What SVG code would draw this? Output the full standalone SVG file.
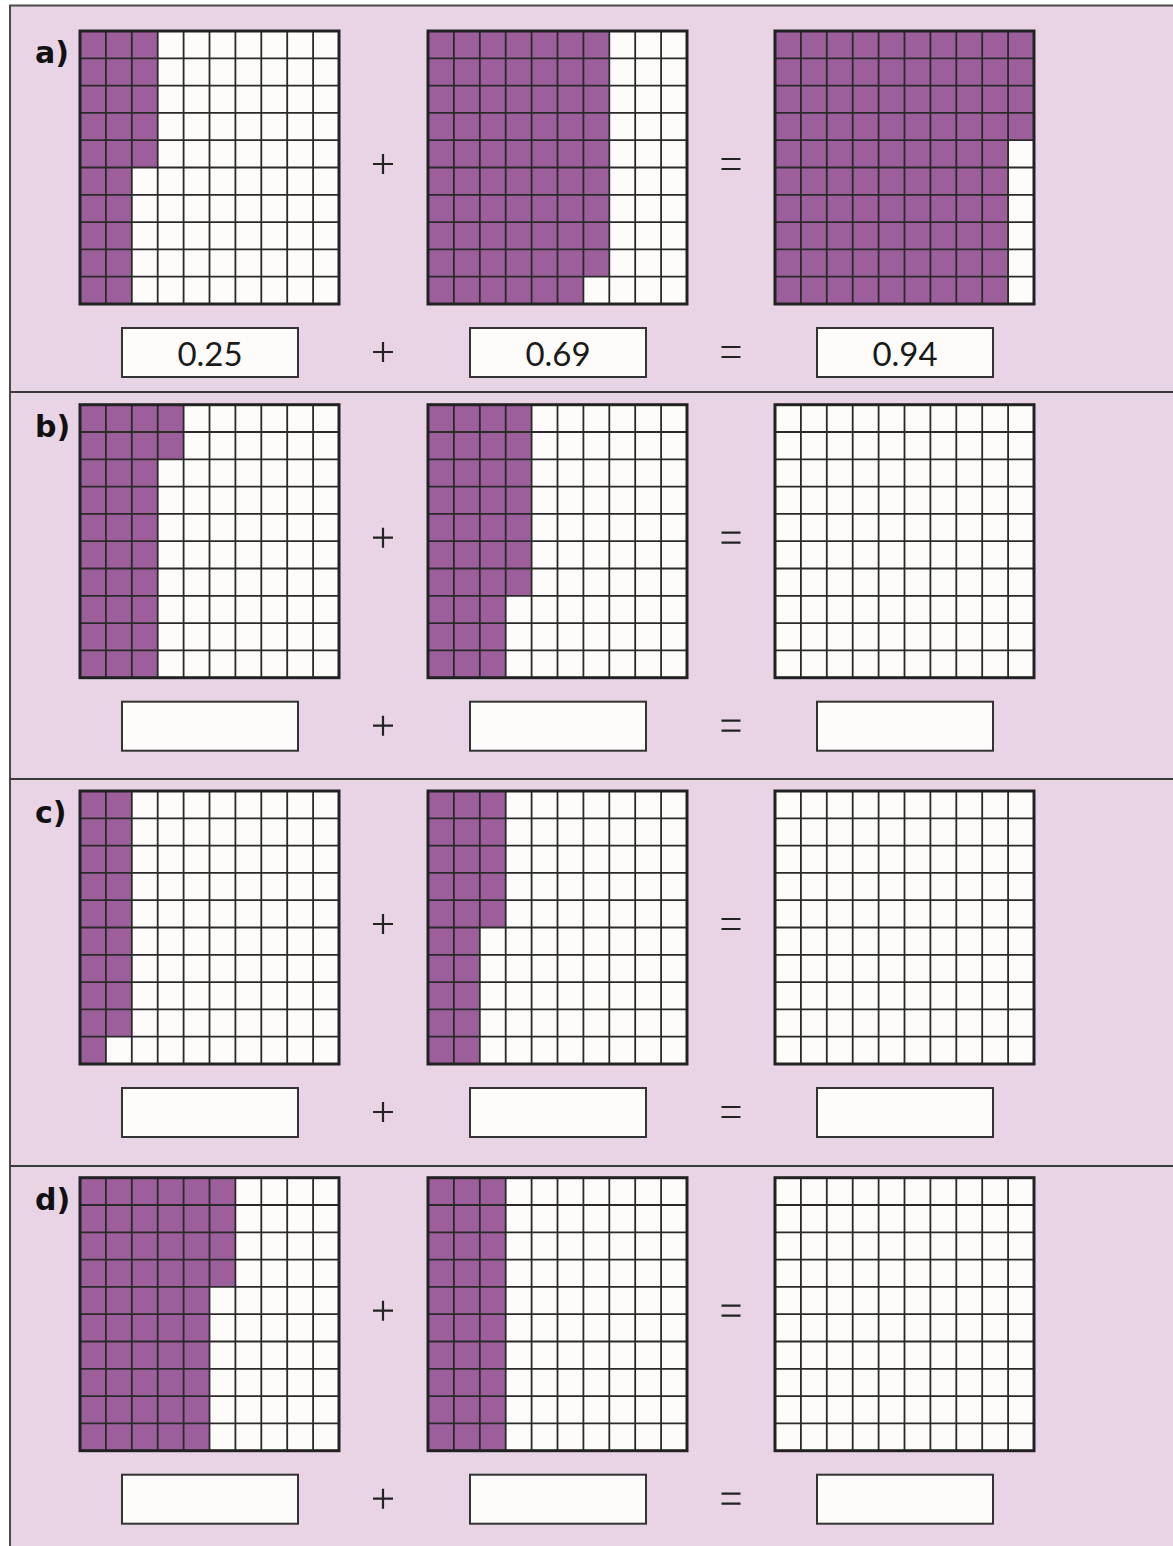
<svg xmlns="http://www.w3.org/2000/svg" xmlns:xlink="http://www.w3.org/1999/xlink" width="1173" height="1546" viewBox="0 0 1173 1546">
<style>
.bg{fill:#e9d4e6}
.frame{fill:none;stroke:#4a4a4a;stroke-width:2}
.sep{stroke:#3a3a3a;stroke-width:2}
.cellbg{fill:#fdfcfb}
.shade{fill:#9c5f9c}
.inner{fill:none;stroke:#2a2a2a;stroke-width:1.8}
.outer{fill:none;stroke:#222;stroke-width:3}
.box{fill:#fdfcfb;stroke:#333;stroke-width:2}
.op{stroke:#222;stroke-width:2.2;fill:none}
.lbl{font-family:"DejaVu Sans",sans-serif;font-weight:bold;font-size:30px;fill:#111}
.num{font-family:Lato,"Liberation Sans",sans-serif;font-size:33px;fill:#1a1a1a;text-anchor:middle}
</style>
<defs>
<g id="gridlines">
<path class="inner" d="M25.9 0V273M51.8 0V273M77.7 0V273M103.6 0V273M129.5 0V273M155.4 0V273M181.3 0V273M207.2 0V273M233.1 0V273M0 27.3H259M0 54.6H259M0 81.9H259M0 109.2H259M0 136.5H259M0 163.8H259M0 191.1H259M0 218.4H259M0 245.7H259"/>
<rect class="outer" x="0" y="0" width="259" height="273"/>
</g>
<rect id="cells" class="cellbg" x="0" y="0" width="259" height="273"/>
<g id="plus"><path class="op" d="M-10 0H10M0 -10V10"/></g>
<g id="eq"><path class="op" d="M-9.5 -5H9.5M-9.5 5H9.5"/></g>
<rect id="ansbox" class="box" x="0" y="0" width="176" height="49"/>
</defs>

<rect x="0" y="0" width="1173" height="1546" fill="#ffffff"/>
<rect class="bg" x="10" y="5.5" width="1163" height="1541"/>
<path class="frame" d="M10 1546V5.5H1173"/>

<g id="separators">
<line class="sep" x1="10" y1="392" x2="1173" y2="392"/>
<line class="sep" x1="10" y1="779" x2="1173" y2="779"/>
<line class="sep" x1="10" y1="1166" x2="1173" y2="1166"/>
</g>

<!-- Panel a -->
<g id="panel-a" transform="translate(0,31)">
<text class="lbl" x="35" y="32">a)</text>
<g id="a-grid1" transform="translate(80,0)">
<use xlink:href="#cells"/>
<path class="shade" d="M0 0H77.7V136.5H51.8V273H0Z"/>
<use xlink:href="#gridlines"/>
</g>
<use xlink:href="#plus" x="383" y="133"/>
<g id="a-grid2" transform="translate(428,0)">
<use xlink:href="#cells"/>
<path class="shade" d="M0 0H181.3V245.7H155.4V273H0Z"/>
<use xlink:href="#gridlines"/>
</g>
<use xlink:href="#eq" x="731" y="133"/>
<g id="a-grid3" transform="translate(775,0)">
<use xlink:href="#cells"/>
<path class="shade" d="M0 0H259V109.2H233.1V273H0Z"/>
<use xlink:href="#gridlines"/>
</g>
<g id="a-box1"><use xlink:href="#ansbox" x="122" y="297"/><text class="num" x="210" y="335">0.25</text></g>
<use xlink:href="#plus" x="383" y="321"/>
<g id="a-box2"><use xlink:href="#ansbox" x="470" y="297"/><text class="num" x="558" y="335">0.69</text></g>
<use xlink:href="#eq" x="731" y="321"/>
<g id="a-box3"><use xlink:href="#ansbox" x="817" y="297"/><text class="num" x="905" y="335">0.94</text></g>
</g>

<!-- Panel b -->
<g id="panel-b" transform="translate(0,404.7)">
<text class="lbl" x="35" y="32">b)</text>
<g id="b-grid1" transform="translate(80,0)">
<use xlink:href="#cells"/>
<path class="shade" d="M0 0H103.6V54.6H77.7V273H0Z"/>
<use xlink:href="#gridlines"/>
</g>
<use xlink:href="#plus" x="383" y="133"/>
<g id="b-grid2" transform="translate(428,0)">
<use xlink:href="#cells"/>
<path class="shade" d="M0 0H103.6V191.1H77.7V273H0Z"/>
<use xlink:href="#gridlines"/>
</g>
<use xlink:href="#eq" x="731" y="133"/>
<g id="b-grid3" transform="translate(775,0)">
<use xlink:href="#cells"/>
<use xlink:href="#gridlines"/>
</g>
<g id="b-box1"><use xlink:href="#ansbox" x="122" y="297"/></g>
<use xlink:href="#plus" x="383" y="321"/>
<g id="b-box2"><use xlink:href="#ansbox" x="470" y="297"/></g>
<use xlink:href="#eq" x="731" y="321"/>
<g id="b-box3"><use xlink:href="#ansbox" x="817" y="297"/></g>
</g>

<!-- Panel c -->
<g id="panel-c" transform="translate(0,791)">
<text class="lbl" x="35" y="32">c)</text>
<g id="c-grid1" transform="translate(80,0)">
<use xlink:href="#cells"/>
<path class="shade" d="M0 0H51.8V245.7H25.9V273H0Z"/>
<use xlink:href="#gridlines"/>
</g>
<use xlink:href="#plus" x="383" y="133"/>
<g id="c-grid2" transform="translate(428,0)">
<use xlink:href="#cells"/>
<path class="shade" d="M0 0H77.7V136.5H51.8V273H0Z"/>
<use xlink:href="#gridlines"/>
</g>
<use xlink:href="#eq" x="731" y="133"/>
<g id="c-grid3" transform="translate(775,0)">
<use xlink:href="#cells"/>
<use xlink:href="#gridlines"/>
</g>
<g id="c-box1"><use xlink:href="#ansbox" x="122" y="297"/></g>
<use xlink:href="#plus" x="383" y="321"/>
<g id="c-box2"><use xlink:href="#ansbox" x="470" y="297"/></g>
<use xlink:href="#eq" x="731" y="321"/>
<g id="c-box3"><use xlink:href="#ansbox" x="817" y="297"/></g>
</g>

<!-- Panel d -->
<g id="panel-d" transform="translate(0,1177.7)">
<text class="lbl" x="35" y="32">d)</text>
<g id="d-grid1" transform="translate(80,0)">
<use xlink:href="#cells"/>
<path class="shade" d="M0 0H155.4V109.2H129.5V273H0Z"/>
<use xlink:href="#gridlines"/>
</g>
<use xlink:href="#plus" x="383" y="133"/>
<g id="d-grid2" transform="translate(428,0)">
<use xlink:href="#cells"/>
<path class="shade" d="M0 0H77.7V273H0Z"/>
<use xlink:href="#gridlines"/>
</g>
<use xlink:href="#eq" x="731" y="133"/>
<g id="d-grid3" transform="translate(775,0)">
<use xlink:href="#cells"/>
<use xlink:href="#gridlines"/>
</g>
<g id="d-box1"><use xlink:href="#ansbox" x="122" y="297"/></g>
<use xlink:href="#plus" x="383" y="321"/>
<g id="d-box2"><use xlink:href="#ansbox" x="470" y="297"/></g>
<use xlink:href="#eq" x="731" y="321"/>
<g id="d-box3"><use xlink:href="#ansbox" x="817" y="297"/></g>
</g>
</svg>
